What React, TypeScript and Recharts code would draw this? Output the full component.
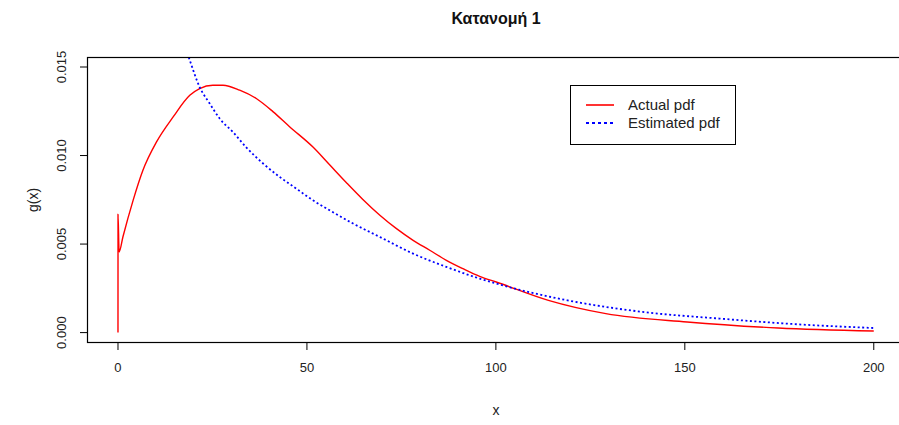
import { LineChart, Line, XAxis, YAxis } from "recharts";

const actualX = [0, 0.01, 0.3, 1.3, 4.0, 6.6, 10.2, 14.6, 19.0, 21.6, 25.1, 27.8, 32.2, 36.6, 41.0, 45.4, 51.6, 56.0, 60.4, 64.8, 69.3, 73.7, 78.1, 82.5, 86.9, 91.3, 95.7, 100.1, 113.9, 129.1, 150.6, 174.7, 200];
const actualY = [0, 0.00668, 0.00455, 0.0054, 0.00747, 0.00917, 0.01077, 0.01218, 0.0134, 0.01378, 0.01397, 0.01397, 0.01369, 0.01322, 0.01248, 0.01163, 0.01048, 0.00948, 0.00848, 0.00752, 0.00663, 0.00587, 0.00521, 0.00465, 0.00408, 0.00361, 0.00318, 0.00286, 0.00182, 0.00107, 0.0006, 0.00026, 0.00009];

// Estimated pdf (blue dotted)
const estX = [16.5, 19.0, 21.6, 24.3, 26.9, 30.4, 34.0, 38.4, 42.8, 47.2, 51.6, 56.0, 62.2, 69.3, 78.1, 86.9, 95.7, 100.1, 119, 139.2, 159.3, 179.7, 200];
const estY = [0.017, 0.01538, 0.01387, 0.01293, 0.01209, 0.01133, 0.01045, 0.00955, 0.00879, 0.00813, 0.00747, 0.00691, 0.00616, 0.0054, 0.00446, 0.00371, 0.00305, 0.00277, 0.00182, 0.00116, 0.00079, 0.00047, 0.00026];

const xTicks = [0, 50, 100, 150, 200];
const yTicks = [0, 0.005, 0.01, 0.015];
const yTickLabels = ["0.000", "0.005", "0.010", "0.015"];

const actual = actualX.map((x, i) => ({ x, y: actualY[i] }));
const estimated = estX.map((x, i) => ({ x, y: estY[i] }));

const FONT = "'Liberation Sans', Arial, sans-serif";

const XTick = (props: any) => (
  <text x={props.x} y={372} textAnchor="middle" fontSize={13} fontFamily={FONT} fill="#222">
    {props.payload.value}
  </text>
);

const YTick = (props: any) => {
  const i = yTicks.indexOf(props.payload.value);
  return (
    <text
      x={66}
      y={props.y}
      transform={`rotate(-90, 66, ${props.y})`}
      textAnchor="middle"
      fontSize={13}
      fontFamily={FONT}
      fill="#222"
    >
      {yTickLabels[i]}
    </text>
  );
};

export default function App() {
  return (
    <div style={{ position: "absolute", left: 0, top: 0, width: 899, height: 425, overflow: "hidden", background: "#fff" }}>
      <LineChart width={910} height={425} margin={{ top: 57, right: 6, left: 0, bottom: 52 }}>
        <XAxis
          dataKey="x"
          type="number"
          domain={[-8.2, 208]}
          ticks={xTicks}
          allowDataOverflow
          axisLine={false}
          tickSize={7}
          tickLine={{ stroke: "#000" }}
          tick={<XTick />}
          height={30}
        />
        <YAxis
          dataKey="y"
          type="number"
          domain={[-0.000587, 0.015565]}
          ticks={yTicks}
          allowDataOverflow
          axisLine={false}
          tickSize={7}
          tickLine={{ stroke: "#000" }}
          tick={<YTick />}
          width={87}
        />
        <Line data={actual} dataKey="y" type="monotone" stroke="#ff0000" strokeWidth={1.4} dot={false} isAnimationActive={false} />
        <Line data={estimated} dataKey="y" type="monotone" stroke="#0000ff" strokeWidth={1.8} strokeDasharray="2 2.5" dot={false} isAnimationActive={false} />
      </LineChart>
      <svg width={899} height={425} style={{ position: "absolute", left: 0, top: 0, pointerEvents: "none" }}>
        <rect x={87.5} y={57.5} width={820} height={285} fill="none" stroke="#000" strokeWidth={1.2} />
        <text x={496} y={24} textAnchor="middle" fontSize={16} fontWeight="bold" fontFamily={FONT} fill="#111">
          Κατανομή 1
        </text>
        <text x={496} y={415} textAnchor="middle" fontSize={14} fontFamily={FONT} fill="#222">
          x
        </text>
        <text x={38} y={200} transform="rotate(-90, 38, 200)" textAnchor="middle" fontSize={14} fontFamily={FONT} fill="#222">
          g(x)
        </text>
        <rect x={570.5} y={85.5} width={165} height={59} fill="#fff" stroke="#000" strokeWidth={1} />
        <line x1={586} x2={614} y1={105} y2={105} stroke="#ff0000" strokeWidth={1.6} />
        <line x1={586} x2={614} y1={123} y2={123} stroke="#0000ff" strokeWidth={2} strokeDasharray="3 3" />
        <text x={628} y={110} fontSize={15} fontFamily={FONT} fill="#222">
          Actual pdf
        </text>
        <text x={628} y={128} fontSize={15} fontFamily={FONT} fill="#222">
          Estimated pdf
        </text>
      </svg>
    </div>
  );
}
